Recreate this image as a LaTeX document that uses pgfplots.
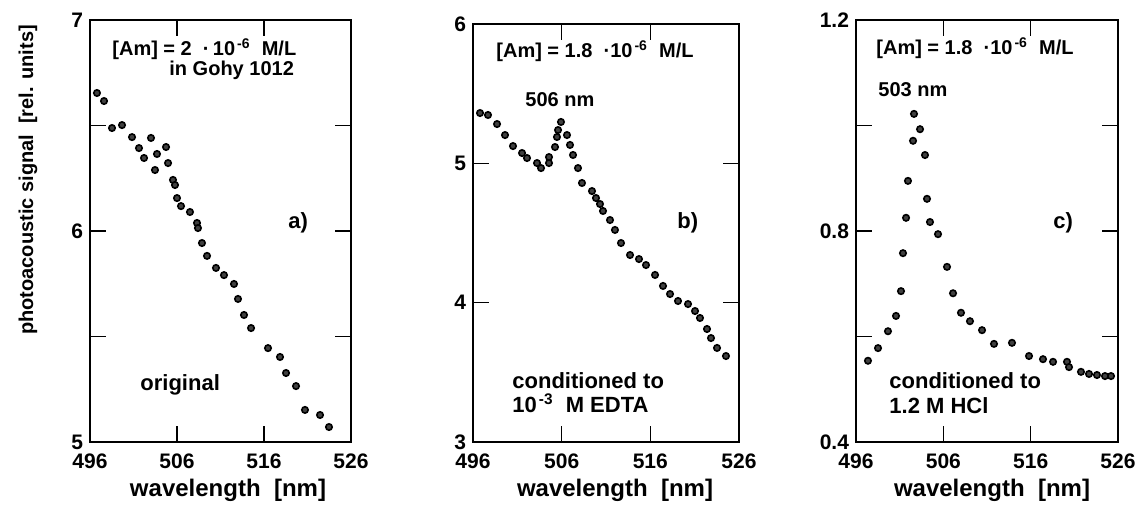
\documentclass[border=0pt]{standalone}
\usepackage{fontspec}
\setmainfont{Liberation Sans}
\usepackage{pgfplots}
\usepackage{pgfplotstable}
\pgfplotsset{compat=1.18}

\pgfplotstableread{
x y
496.80 6.654
497.61 6.616
498.53 6.488
499.68 6.502
500.83 6.445
501.63 6.393
502.21 6.346
503.01 6.441
503.70 6.365
503.47 6.289
504.74 6.398
504.97 6.322
505.54 6.242
505.77 6.218
506.00 6.156
506.46 6.118
507.49 6.090
508.30 6.038
508.41 6.014
508.87 5.943
509.45 5.882
510.48 5.825
511.40 5.791
512.55 5.749
513.01 5.678
513.70 5.602
514.51 5.540
516.46 5.445
517.84 5.403
518.53 5.327
519.68 5.265
520.71 5.152
522.44 5.128
523.47 5.071
}\dataA

\pgfplotstableread{
x y
496.79 5.361
497.69 5.347
498.71 5.282
499.61 5.203
500.51 5.124
501.53 5.074
502.09 5.038
503.22 5.002
503.67 4.966
504.57 5.002
504.57 5.045
505.25 5.117
505.47 5.189
505.59 5.239
505.92 5.297
506.60 5.203
506.94 5.132
507.28 5.060
507.84 4.966
508.29 4.859
509.42 4.801
509.87 4.751
510.32 4.708
510.66 4.658
511.45 4.593
512.01 4.522
512.69 4.428
513.71 4.342
514.72 4.313
515.51 4.270
516.53 4.199
517.43 4.120
518.22 4.062
519.12 4.012
520.25 3.990
521.04 3.940
521.60 3.890
522.39 3.811
522.84 3.746
523.52 3.675
524.53 3.617
}\dataB

\pgfplotstableread{
x y
497.37 0.554
498.52 0.578
499.66 0.610
500.58 0.639
501.15 0.686
501.38 0.758
501.73 0.825
501.95 0.895
502.53 0.971
502.64 1.022
503.33 0.993
503.90 0.944
504.13 0.861
504.47 0.817
505.39 0.794
506.42 0.732
507.11 0.682
508.02 0.645
509.05 0.629
510.43 0.612
511.80 0.586
513.86 0.588
515.81 0.563
517.41 0.557
518.56 0.552
520.16 0.552
520.39 0.542
521.76 0.533
522.68 0.529
523.59 0.527
524.51 0.525
525.20 0.525
}\dataC

\pgfplotsset{
  panel/.style={
    scale only axis,
    anchor=south west,
    xmin=496, xmax=526,
    xtick={496,506,516,526},
    xticklabels={496,506,516,526},
    tick align=inside,
    major tick length=8pt,
    axis line style={line width=0.8pt},
    every tick/.style={line width=0.7pt, black},
    tick label style={font=\fontsize{10.5}{12}\selectfont\bfseries},
    xticklabel style={yshift=-2.5pt},
    clip=false,
  },
  pts/.style={only marks, mark=*, mark size=1.6pt,
    mark options={draw=black, fill=black!75, line width=0.8pt}},
}
\tikzset{
  ann/.style={anchor=base west, inner sep=0pt, font=\fontsize{11}{13}\selectfont\bfseries},
  annS/.style={anchor=base west, inner sep=0pt, font=\fontsize{10}{12}\selectfont\bfseries},
}
\newcommand{\sx}[1]{\hspace{1pt}\textsuperscript{#1}}

\begin{document}
\begin{tikzpicture}
\useasboundingbox (0,0) rectangle (572pt,257pt);

% panel a
\begin{axis}[panel, at={(45pt,36pt)}, width=130.5pt, height=211pt,
  ymin=5, ymax=7, ytick={5,5.5,6,6.5,7}, yticklabels={5,,6,,7}]
\addplot[pts] table[x=x,y=y] {\dataA};
\end{axis}

% panel b
\begin{axis}[panel, at={(236.5pt,36pt)}, width=133pt, height=209pt,
  ymin=3, ymax=6, ytick={3,4,5,6}, yticklabels={3,4,5,6}]
\addplot[pts] table[x=x,y=y] {\dataB};
\end{axis}

% panel c
\begin{axis}[panel, at={(428pt,36pt)}, width=131pt, height=211pt,
  ymin=0.4, ymax=1.2, ytick={0.4,0.6,0.8,1.0,1.2}, yticklabels={0.4,,0.8,,1.2}]
\addplot[pts] table[x=x,y=y] {\dataC};
\end{axis}

% axis labels
\node[rotate=90, font=\fontsize{10}{12}\selectfont\bfseries] at (14pt,167pt) {photoacoustic signal\ \ [rel. units]};
\node[anchor=base, font=\fontsize{12}{14}\selectfont\bfseries] at (114pt,9pt) {wavelength\ \ [nm]};
\node[anchor=base, font=\fontsize{12}{14}\selectfont\bfseries] at (307.5pt,9pt) {wavelength\ \ [nm]};
\node[anchor=base, font=\fontsize{12}{14}\selectfont\bfseries] at (496pt,9pt) {wavelength\ \ [nm]};

% annotations panel a
\node[annS] at (56pt,229pt) {[Am] = 2\ \ ·\,10\sx{-6}\ \ M/L};
\node[annS] at (84.5pt,219pt) {in Gohy 1012};
\node[ann] at (144pt,142.5pt) {a)};
\node[ann] at (70pt,62pt) {original};

% annotations panel b
\node[annS] at (248pt,228pt) {[Am] = 1.8\ \ ·10\sx{-6}\ \ M/L};
\node[annS] at (262.5pt,203.5pt) {506 nm};
\node[ann] at (338.5pt,142.5pt) {b)};
\node[ann] at (256pt,63pt) {conditioned to};
\node[ann] at (256pt,51pt) {10\sx{-3}\ \ M EDTA};

% annotations panel c
\node[annS] at (438pt,229.5pt) {[Am] = 1.8\ \ ·10\sx{-6}\ \ M/L};
\node[annS] at (439pt,208.5pt) {503 nm};
\node[ann] at (526.5pt,142.5pt) {c)};
\node[ann] at (444.5pt,63pt) {conditioned to};
\node[ann] at (444.5pt,50.5pt) {1.2 M HCl};
\end{tikzpicture}
\end{document}
